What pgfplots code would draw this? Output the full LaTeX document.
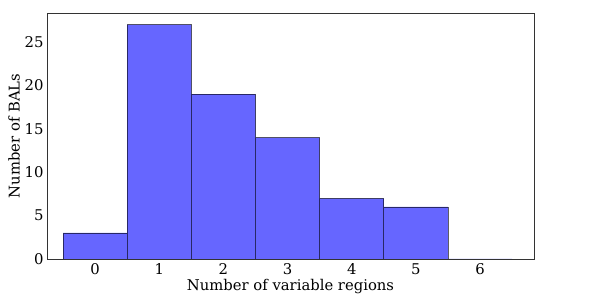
\documentclass[border=0pt]{standalone}
\usepackage{pgfplots}
\pgfplotsset{compat=1.18}
\usepackage{fontspec}
\setmainfont{DejaVu Serif}
\definecolor{barfill}{HTML}{6666FF}
\begin{document}
\begin{tikzpicture}[x=1pt,y=1pt]
\useasboundingbox (0,0) rectangle (598,294);
\begin{axis}[
  at={(47pt,35pt)}, anchor=south west,
  scale only axis, width=487pt, height=246pt,
  xmin=-0.75, xmax=6.84, ymin=0, ymax=28.35,
  xtick={0,...,6}, ytick={0,5,...,25},
  major tick length=0pt,
  /pgf/number format/assume math mode=true,
  tick label style={font=\fontsize{14.8}{17}\selectfont},
  label style={font=\fontsize{14.8}{17}\selectfont},
  xticklabel style={yshift=-1pt},
  xlabel={Number of variable regions},
  ylabel={Number of BALs},
  xlabel style={yshift=2pt},
  ylabel style={yshift=-2pt},
  axis line style={black!80, line width=0.8pt},
]
\addplot[ybar, bar width=1, fill=barfill, draw=black, draw opacity=0.6, line width=0.8pt]
  coordinates {(0,3) (1,27) (2,19) (3,14) (4,7) (5,6) (6,0)};
\end{axis}
\end{tikzpicture}
\end{document}
